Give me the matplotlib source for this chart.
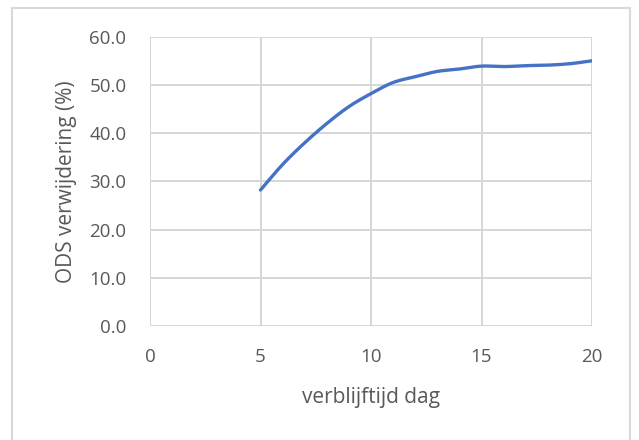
import matplotlib
matplotlib.use("Agg")
import matplotlib.pyplot as plt
from matplotlib.patches import Rectangle
import numpy as np

days = [5, 6, 7, 8, 9, 10, 11, 12, 13, 14, 15, 16, 17, 18, 19, 20]
removal = [28.2, 33.5, 38.0, 42.0, 45.5, 48.2, 50.5, 51.7, 52.8, 53.3, 53.9, 53.8, 54.0, 54.1, 54.4, 55.0]
x_ticks = [0, 5, 10, 15, 20]
y_ticks = [0, 10, 20, 30, 40, 50, 60]

plt.rcParams['font.family'] = ['Open Sans', 'DejaVu Sans']
txt = '#595959'

fig = plt.figure(figsize=(6.39, 4.40), dpi=100)
fig.patch.set_facecolor('white')
fig.add_artist(Rectangle((12/639, -0.01), (630-12)/639, 1 - 8/440 + 0.01,
                         transform=fig.transFigure, fill=False,
                         edgecolor='#d9d9d9', lw=1.5))

ax = fig.add_axes([150/639, 1-326/440, (592-150)/639, (326-36.7)/440])

xs = np.array(days, dtype=float)
ys = np.array(removal, dtype=float)
def catmull(xs, ys, n=20):
    px = np.concatenate([[2*xs[0]-xs[1]], xs, [2*xs[-1]-xs[-2]]])
    py = np.concatenate([[2*ys[0]-ys[1]], ys, [2*ys[-1]-ys[-2]]])
    ox, oy = [], []
    for i in range(1, len(px)-2):
        t = np.linspace(0, 1, n, endpoint=False)
        for arr, out in ((px, ox), (py, oy)):
            p0, p1, p2, p3 = arr[i-1], arr[i], arr[i+1], arr[i+2]
            out.extend(0.5*((2*p1) + (-p0+p2)*t + (2*p0-5*p1+4*p2-p3)*t**2 + (-p0+3*p1-3*p2+p3)*t**3))
    ox.append(xs[-1]); oy.append(ys[-1])
    return np.array(ox), np.array(oy)
sx, sy = catmull(xs, ys)
ax.plot(sx, sy, color='#4472c4', lw=2.4, solid_capstyle='round', zorder=3)

ax.set_xlim(0, 20)
ax.set_ylim(0, 60)
ax.set_xticks(x_ticks)
ax.set_yticks(y_ticks)
ax.set_xticklabels([str(v) for v in x_ticks])
ax.set_yticklabels([f"{v:.1f}" for v in y_ticks])
ax.grid(True, color='#d6d6d6', lw=1.4)
ax.set_axisbelow(True)
for s in ax.spines.values():
    s.set_visible(False)
ax.tick_params(length=0, colors=txt, labelsize=13.5)
ax.tick_params(axis='x', pad=16)
ax.tick_params(axis='y', pad=17)
ax.set_xlabel('verblijftijd dag', color=txt, fontsize=15, labelpad=15)
ax.set_ylabel('ODS verwijdering (%)', color=txt, fontsize=15, labelpad=9)

fig.savefig('out.png', dpi=100, facecolor='white')
